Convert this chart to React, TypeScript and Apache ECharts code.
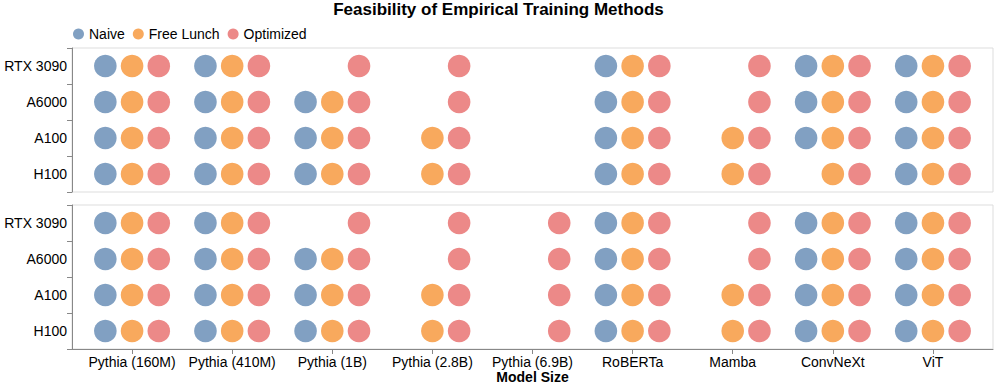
import React, { useEffect, useRef } from "react";
import * as echarts from "echarts";

const models = [
  "Pythia (160M)",
  "Pythia (410M)",
  "Pythia (1B)",
  "Pythia (2.8B)",
  "Pythia (6.9B)",
  "RoBERTa",
  "Mamba",
  "ConvNeXt",
  "ViT",
];
const gpus = ["RTX 3090", "A6000", "A100", "H100"];
const methods = ["Naive", "Free Lunch", "Optimized"];
const methodKeys = ["N", "F", "O"];
const methodColors = ["#4c78a8", "#f58518", "#e45756"];
const methodOffsets = [-0.267, 0, 0.267];

// feasibility per GPU row (top to bottom), per model; letters = feasible methods
const topPanel: string[][] = [
  ["NFO", "NFO", "O", "O", "", "NFO", "O", "NFO", "NFO"], // RTX 3090
  ["NFO", "NFO", "NFO", "O", "", "NFO", "O", "NFO", "NFO"], // A6000
  ["NFO", "NFO", "NFO", "FO", "", "NFO", "FO", "NFO", "NFO"], // A100
  ["NFO", "NFO", "NFO", "FO", "", "NFO", "FO", "FO", "NFO"], // H100
];
const bottomPanel: string[][] = [
  ["NFO", "NFO", "O", "O", "O", "NFO", "O", "NFO", "NFO"], // RTX 3090
  ["NFO", "NFO", "NFO", "O", "O", "NFO", "O", "NFO", "NFO"], // A6000
  ["NFO", "NFO", "NFO", "FO", "O", "NFO", "FO", "NFO", "NFO"], // A100
  ["NFO", "NFO", "NFO", "FO", "O", "NFO", "FO", "NFO", "NFO"], // H100
];

const FONT = "Liberation Sans, Arial, sans-serif";

function buildSeries(panel: string[][], gridIndex: number) {
  return methods.map((name, m) => {
    const data: [number, string][] = [];
    panel.forEach((row, g) => {
      row.forEach((flags, i) => {
        if (flags.includes(methodKeys[m])) data.push([i + methodOffsets[m], gpus[g]]);
      });
    });
    return {
      type: "scatter",
      name,
      xAxisIndex: gridIndex,
      yAxisIndex: gridIndex,
      symbol: "circle",
      symbolSize: 22.6,
      itemStyle: { color: methodColors[m], opacity: 0.7 },
      data,
    };
  });
}

export default function App() {
  const ref = useRef<HTMLDivElement>(null);
  useEffect(() => {
    if (!ref.current) return;
    const chart = echarts.init(ref.current, undefined, { renderer: "svg" });
    const ticks = models.map((_, i) => i);
    const yAxisBase = (gridIndex: number) => ({
      type: "category",
      gridIndex,
      data: gpus,
      inverse: true,
      axisLine: { show: true, onZero: false, lineStyle: { color: "#888" } },
      axisTick: { show: true, length: 5, lineStyle: { color: "#888" } },
      axisLabel: { color: "#000", fontSize: 14, fontFamily: FONT, margin: 5 },
      splitLine: { show: false },
    });
    chart.setOption({
      animation: false,
      color: methodColors,
      title: {
        text: "Feasibility of Empirical Training Methods",
        left: "center",
        top: 1,
        padding: 0,
        textStyle: { fontSize: 17, fontWeight: "bold", color: "#000", fontFamily: FONT },
      },
      legend: {
        left: 68,
        top: 22,
        icon: "circle",
        itemWidth: 11,
        itemHeight: 11,
        itemGap: 8,
        textStyle: { fontSize: 14, color: "#000", fontFamily: FONT },
        data: methods,
      },
      grid: [
        { left: 72, right: 4, top: 48, height: 144, show: true, borderColor: "#ddd", borderWidth: 1, backgroundColor: "transparent" },
        { left: 72, right: 4, top: 205, height: 144, show: true, borderColor: "#ddd", borderWidth: 1, backgroundColor: "transparent" },
      ],
      xAxis: [
        {
          type: "value",
          gridIndex: 0,
          min: -0.6,
          max: 8.6,
          axisLine: { show: false },
          axisTick: { show: false },
          axisLabel: { show: false },
          splitLine: { show: false },
        },
        {
          type: "value",
          gridIndex: 1,
          min: -0.6,
          max: 8.6,
          name: "Model Size",
          nameLocation: "middle",
          nameGap: 21,
          nameTextStyle: { fontSize: 14, fontWeight: "bold", color: "#000", fontFamily: FONT },
          axisLine: { show: true, onZero: false, lineStyle: { color: "#888" } },
          axisTick: { show: true, length: 5, customValues: ticks, lineStyle: { color: "#888" } },
          axisLabel: {
            show: true,
            customValues: ticks,
            formatter: (v: number) => models[Math.round(v)] ?? "",
            color: "#000",
            fontSize: 14,
            fontFamily: FONT,
            margin: 6,
          },
          splitLine: { show: false },
        },
      ],
      yAxis: [yAxisBase(0), yAxisBase(1)],
      series: [...buildSeries(topPanel, 0), ...buildSeries(bottomPanel, 1)],
    });
    return () => chart.dispose();
  }, []);
  return (
    <div
      ref={ref}
      style={{ position: "fixed", left: 0, top: 0, width: 997, height: 387, background: "#fff" }}
    />
  );
}
